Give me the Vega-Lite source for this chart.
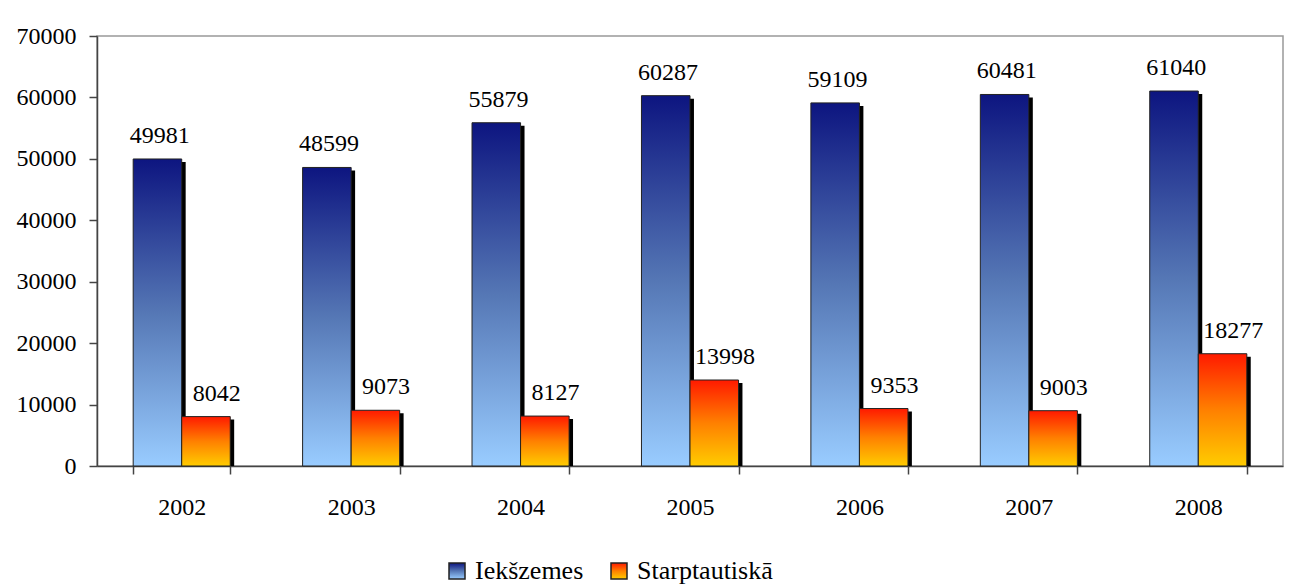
{
  "$schema": "https://vega.github.io/schema/vega-lite/v6.json",
  "autosize": "none",
  "width": 1186,
  "height": 430,
  "padding": {"left": 97, "top": 36, "right": 9, "bottom": 118},
  "background": "white",
  "config": {
    "font": "Liberation Serif, serif",
    "view": {"stroke": "#999999", "strokeWidth": 1.5},
    "axis": {"labelFont": "Liberation Serif, serif"},
    "legend": {"labelFont": "Liberation Serif, serif"},
    "text": {"font": "Liberation Serif, serif"}
  },
  "data": {
    "values": [
      {"year": "2002", "series": "Iekšzemes", "value": 49981},
      {"year": "2002", "series": "Starptautiskā", "value": 8042},
      {"year": "2003", "series": "Iekšzemes", "value": 48599},
      {"year": "2003", "series": "Starptautiskā", "value": 9073},
      {"year": "2004", "series": "Iekšzemes", "value": 55879},
      {"year": "2004", "series": "Starptautiskā", "value": 8127},
      {"year": "2005", "series": "Iekšzemes", "value": 60287},
      {"year": "2005", "series": "Starptautiskā", "value": 13998},
      {"year": "2006", "series": "Iekšzemes", "value": 59109},
      {"year": "2006", "series": "Starptautiskā", "value": 9353},
      {"year": "2007", "series": "Iekšzemes", "value": 60481},
      {"year": "2007", "series": "Starptautiskā", "value": 9003},
      {"year": "2008", "series": "Iekšzemes", "value": 61040},
      {"year": "2008", "series": "Starptautiskā", "value": 18277}
    ]
  },
  "encoding": {
    "x": {
      "field": "year", "type": "ordinal",
      "scale": {"paddingInner": 0.427, "paddingOuter": 0.2135},
      "axis": {
        "title": null, "labelAngle": 0, "labelFontSize": 24, "labelColor": "#000000",
        "labelFont": "Liberation Serif, serif",
        "labelPadding": 21, "tickBand": "extent", "tickSize": 8, "tickColor": "#444444",
        "domainColor": "#444444", "domainWidth": 1.5, "tickWidth": 1.5
      }
    },
    "y": {
      "field": "value", "type": "quantitative",
      "scale": {"domain": [0, 70000], "nice": false},
      "axis": {
        "title": null, "values": [0, 10000, 20000, 30000, 40000, 50000, 60000, 70000],
        "format": "d", "grid": false, "labelFontSize": 24, "labelColor": "#000000",
        "labelFont": "Liberation Serif, serif",
        "tickSize": 8, "labelPadding": 13, "tickColor": "#444444", "domainColor": "#444444",
        "domainWidth": 1.5, "tickWidth": 1.5
      }
    }
  },
  "resolve": {"scale": {"xOffset": "independent"}},
  "layer": [
    {
      "mark": {"type": "bar", "fill": "#000000", "yOffset": 3, "clip": true},
      "encoding": {
        "xOffset": {"field": "series", "type": "nominal", "sort": ["Iekšzemes", "Starptautiskā"], "scale": {"range": [4, 101]}}
      }
    },
    {
      "mark": {"type": "bar", "stroke": "#222222", "strokeWidth": 1},
      "encoding": {
        "xOffset": {"field": "series", "type": "nominal", "sort": ["Iekšzemes", "Starptautiskā"]},
        "fill": {
          "field": "series", "type": "nominal",
          "scale": {
            "domain": ["Iekšzemes", "Starptautiskā"],
            "range": [
              {"expr": "{gradient: 'linear', x1: 0, y1: 0, x2: 0, y2: 1, stops: [{offset: 0, color: '#0d1580'}, {offset: 0.5, color: '#5577b5'}, {offset: 1, color: '#99ccff'}]}"},
              {"expr": "{gradient: 'linear', x1: 0, y1: 0, x2: 0, y2: 1, stops: [{offset: 0, color: '#ff1a00'}, {offset: 0.5, color: '#ff8000'}, {offset: 1, color: '#ffcc00'}]}"}
            ]
          },
          "legend": {
            "title": null, "orient": "none", "legendX": 347, "legendY": 522, "direction": "horizontal",
            "padding": 0, "symbolType": "square", "symbolSize": 256,
            "symbolStrokeColor": "#222222", "symbolStrokeWidth": 1.5, "symbolOpacity": 1,
            "labelFontSize": 26, "labelColor": "#000000", "labelFont": "Liberation Serif, serif",
            "columnPadding": 22, "labelOffset": 5
          }
        }
      }
    },
    {
      "mark": {"type": "text", "baseline": "alphabetic", "dy": -16, "fontSize": 24, "color": "#000000", "font": "Liberation Serif, serif"},
      "encoding": {
        "xOffset": {"field": "series", "type": "nominal", "sort": ["Iekšzemes", "Starptautiskā"], "scale": {"range": [-2, 112]}},
        "text": {"field": "value", "type": "quantitative", "format": "d"}
      }
    }
  ]
}
